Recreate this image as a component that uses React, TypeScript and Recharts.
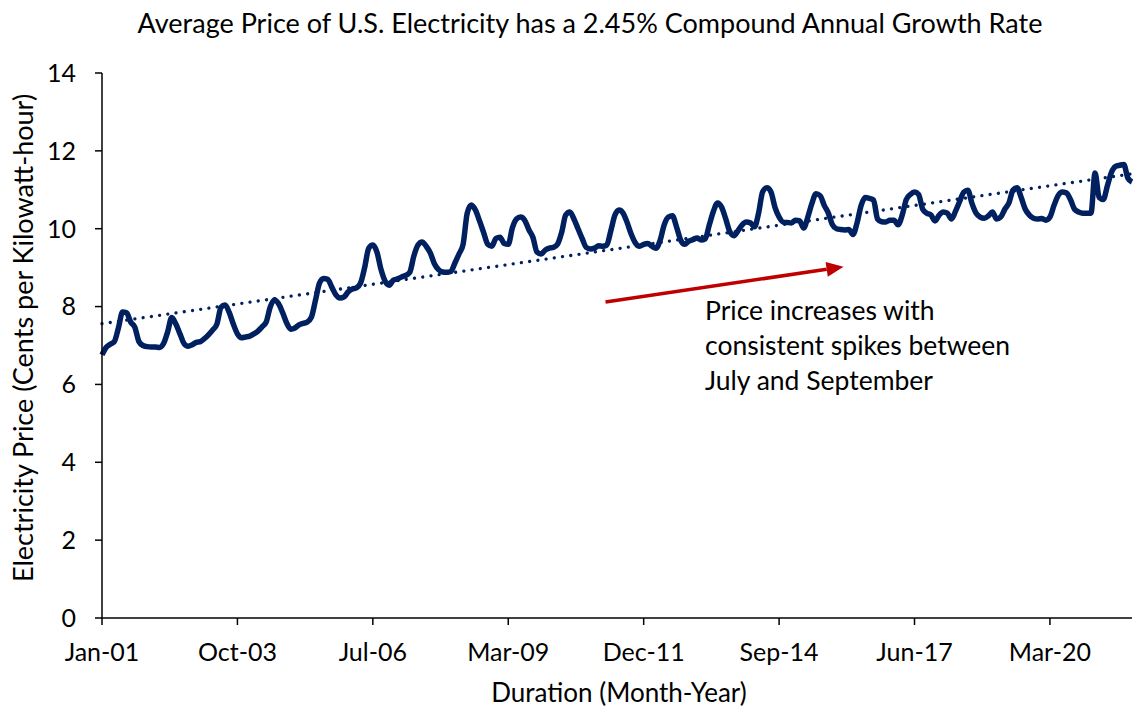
import { Line, LineChart, ReferenceLine, XAxis, YAxis } from 'recharts';

// monthly average price, cents per kWh
const price2001 = [6.76, 6.95, 7.03, 7.1, 7.45, 7.86, 7.84, 7.6, 7.47, 7.1, 7.0, 6.97];
const price2002 = [6.96, 6.96, 6.95, 7.05, 7.35, 7.72, 7.55, 7.3, 7.05, 6.98, 7.02, 7.08];
const price2003 = [7.1, 7.18, 7.28, 7.4, 7.55, 7.98, 8.04, 7.85, 7.55, 7.3, 7.2, 7.22];
const price2004 = [7.24, 7.3, 7.37, 7.48, 7.6, 7.99, 8.17, 8.08, 7.85, 7.58, 7.42, 7.45];
const price2005 = [7.53, 7.57, 7.6, 7.72, 8.15, 8.6, 8.72, 8.7, 8.5, 8.3, 8.22, 8.25];
const price2006 = [8.38, 8.45, 8.48, 8.6, 9.0, 9.5, 9.58, 9.4, 8.95, 8.65, 8.55, 8.68];
const price2007 = [8.71, 8.76, 8.8, 8.88, 9.3, 9.58, 9.66, 9.55, 9.38, 9.1, 8.95, 8.89];
const price2008 = [8.88, 8.9, 9.12, 9.35, 9.6, 10.4, 10.61, 10.48, 10.2, 9.9, 9.6, 9.55];
const price2009 = [9.75, 9.78, 9.62, 9.6, 10.02, 10.25, 10.3, 10.22, 9.98, 9.78, 9.4, 9.35];
const price2010 = [9.45, 9.5, 9.52, 9.6, 9.9, 10.35, 10.43, 10.25, 10.0, 9.75, 9.52, 9.48];
const price2011 = [9.5, 9.56, 9.55, 9.58, 9.95, 10.35, 10.48, 10.4, 10.15, 9.85, 9.63, 9.55];
const price2012 = [9.6, 9.62, 9.55, 9.5, 9.7, 10.1, 10.3, 10.33, 10.05, 9.71, 9.6, 9.68];
const price2013 = [9.72, 9.76, 9.71, 9.74, 10.1, 10.45, 10.66, 10.55, 10.25, 9.92, 9.82, 9.95];
const price2014 = [10.1, 10.17, 10.15, 10.05, 10.4, 10.95, 11.05, 10.95, 10.55, 10.3, 10.17, 10.16];
const price2015 = [10.15, 10.22, 10.2, 10.02, 10.3, 10.65, 10.9, 10.85, 10.6, 10.4, 10.1, 10.0];
const price2016 = [9.98, 9.97, 9.98, 9.85, 10.15, 10.6, 10.8, 10.78, 10.74, 10.25, 10.18, 10.17];
const price2017 = [10.22, 10.22, 10.1, 10.35, 10.75, 10.88, 10.94, 10.88, 10.5, 10.4, 10.35, 10.2];
const price2018 = [10.35, 10.43, 10.4, 10.25, 10.45, 10.7, 10.94, 10.99, 10.65, 10.4, 10.3, 10.27];
const price2019 = [10.33, 10.43, 10.25, 10.3, 10.5, 10.66, 10.99, 11.05, 10.8, 10.5, 10.35, 10.27];
const price2020 = [10.25, 10.26, 10.22, 10.3, 10.6, 10.85, 10.94, 10.92, 10.75, 10.5, 10.43, 10.4];
const price2021 = [10.4, 10.4, 11.43, 10.8, 10.75, 11.1, 11.45, 11.6, 11.63, 11.65, 11.3, 11.2];

const tickLabels = ['Jan-01', 'Oct-03', 'Jul-06', 'Mar-09', 'Dec-11', 'Sep-14', 'Jun-17', 'Mar-20'];
const tickStep = 33; // months between labelled ticks
const yTicks = [0, 2, 4, 6, 8, 10, 12, 14];

// dotted linear trendline, value at first and last month
const trendEnds = [7.56, 11.41];
// red annotation arrow: [month index, price]
const arrowTail = [122.7, 8.12];
const arrowHead = [180.7, 9.02];

const allPrices = [
  price2001, price2002, price2003, price2004, price2005, price2006, price2007,
  price2008, price2009, price2010, price2011, price2012, price2013, price2014,
  price2015, price2016, price2017, price2018, price2019, price2020, price2021,
].flat();

const rows = allPrices.map((price, m) => ({ m, price }));
const lastMonth = rows.length - 1;

const NAVY = '#002060';
const RED = '#C00000';
const FONT = 'Lato, "Open Sans", sans-serif';

function Arrow(p: any) {
  const { x1, y1, x2, y2 } = p;
  const ang = Math.atan2(y2 - y1, x2 - x1);
  const len = 17;
  const half = 7.5;
  const bx = x2 - len * Math.cos(ang);
  const by = y2 - len * Math.sin(ang);
  const px = -Math.sin(ang) * half;
  const py = Math.cos(ang) * half;
  return (
    <g>
      <line x1={x1} y1={y1} x2={bx} y2={by} stroke={RED} strokeWidth={3.5} />
      <polygon points={`${x2},${y2} ${bx + px},${by + py} ${bx - px},${by - py}`} fill={RED} />
    </g>
  );
}

export default function App() {
  return (
    <div style={{ position: 'absolute', left: 0, top: 0, width: 1135, height: 711, background: '#fff', fontFamily: FONT }}>
      <div
        style={{
          position: 'absolute',
          left: 590,
          top: 6,
          transform: 'translateX(-50%)',
          whiteSpace: 'nowrap',
          fontSize: 27,
          color: '#000',
        }}
      >
        Average Price of U.S. Electricity has a 2.45% Compound Annual Growth Rate
      </div>

      <LineChart width={1135} height={711} data={rows} margin={{ top: 73, right: 3, bottom: 33, left: 0 }}>
        <XAxis
          type="number"
          dataKey="m"
          domain={[0, lastMonth]}
          ticks={tickLabels.map((_, k) => k * tickStep)}
          tickFormatter={(v) => tickLabels[Math.round(v / tickStep)]}
          interval={0}
          height={60}
          tickSize={7}
          tickMargin={18}
          axisLine={{ stroke: '#000', strokeWidth: 1.5 }}
          tickLine={{ stroke: '#000', strokeWidth: 1.5 }}
          tick={{ fontSize: 25, fill: '#000', fontFamily: FONT }}
        />
        <YAxis
          type="number"
          domain={[0, 14]}
          ticks={yTicks}
          width={102}
          tickSize={7}
          tickMargin={19}
          axisLine={{ stroke: '#000', strokeWidth: 1.5 }}
          tickLine={{ stroke: '#000', strokeWidth: 1.5 }}
          tick={{ fontSize: 25, fill: '#000', fontFamily: FONT }}
        />
        <ReferenceLine
          segment={[
            { x: 0, y: trendEnds[0] },
            { x: lastMonth, y: trendEnds[1] },
          ]}
          stroke={NAVY}
          strokeWidth={3.3}
          strokeDasharray="0.01 8.3"
          strokeLinecap="round"
        />
        <Line
          type="monotone"
          dataKey="price"
          stroke={NAVY}
          strokeWidth={5.5}
          dot={false}
          isAnimationActive={false}
        />
        <ReferenceLine
          segment={[
            { x: arrowTail[0], y: arrowTail[1] },
            { x: arrowHead[0], y: arrowHead[1] },
          ]}
          shape={Arrow}
        />
      </LineChart>

      <div
        style={{
          position: 'absolute',
          left: 705,
          top: 293,
          fontSize: 26.5,
          lineHeight: '35px',
          color: '#000',
        }}
      >
        Price increases with
        <br />
        consistent spikes between
        <br />
        July and September
      </div>

      <div
        style={{
          position: 'absolute',
          left: 22,
          top: 338,
          transform: 'translate(-50%, -50%) rotate(-90deg)',
          whiteSpace: 'nowrap',
          fontSize: 27,
          color: '#000',
        }}
      >
        Electricity Price (Cents per Kilowatt-hour)
      </div>

      <div
        style={{
          position: 'absolute',
          left: 619,
          top: 692,
          transform: 'translate(-50%, -50%)',
          whiteSpace: 'nowrap',
          fontSize: 26,
          color: '#000',
        }}
      >
        Duration (Month-Year)
      </div>
    </div>
  );
}
